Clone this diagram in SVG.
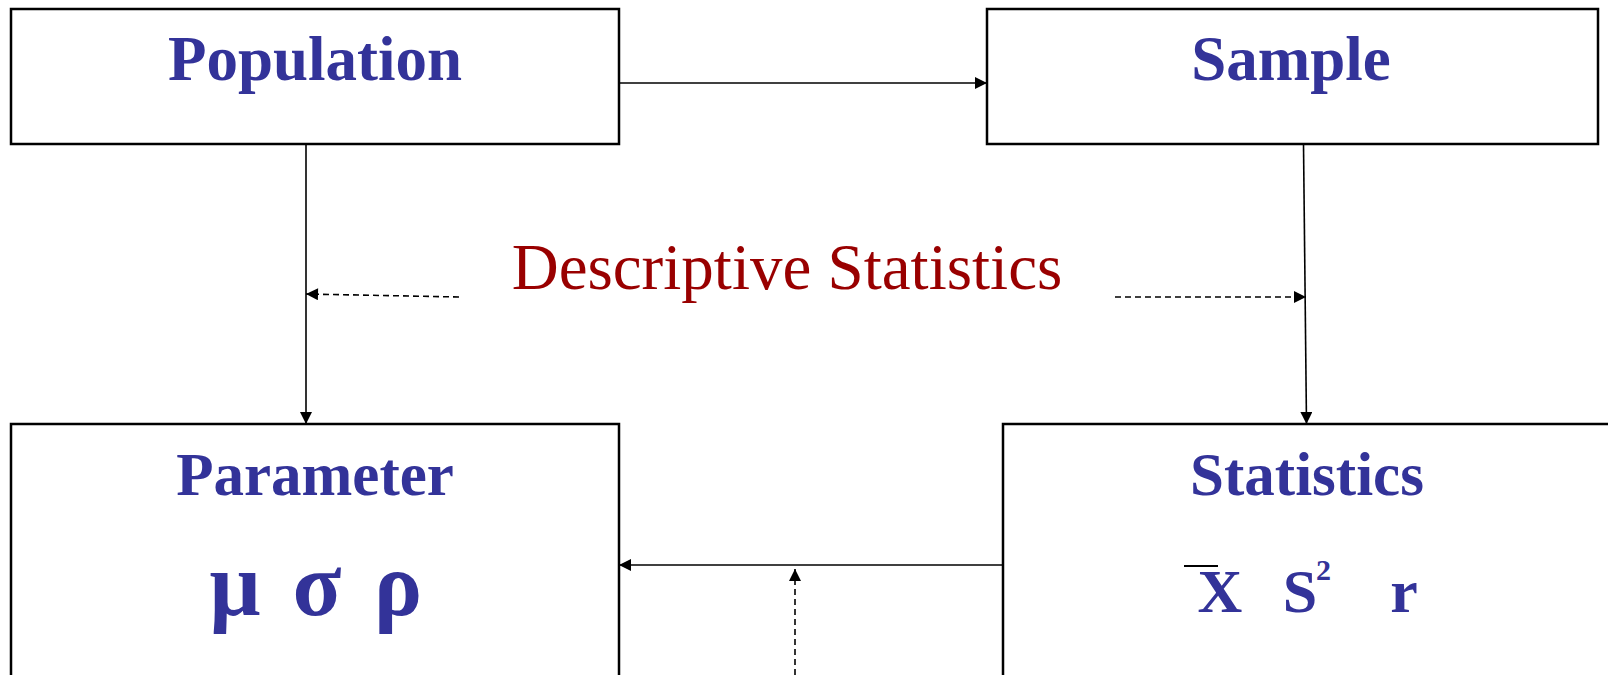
<svg xmlns="http://www.w3.org/2000/svg" width="1608" height="675" viewBox="0 0 1608 675">
<style>
.box{fill:#fff;stroke:#000;stroke-width:2.5}
.lbl{font-family:"Liberation Serif",serif;font-weight:bold;fill:#333399;text-anchor:middle}
.conn{stroke:#000;stroke-width:1.6;fill:none}
.dash{stroke:#000;stroke-width:1.6;fill:none;stroke-dasharray:6 4}
</style>
<defs>
<marker id="ahl" viewBox="0 0 10 10" refX="10" refY="5" markerWidth="13" markerHeight="12" markerUnits="userSpaceOnUse" orient="auto">
<path d="M0,0 L10,5 L0,10 Z" fill="#000"/>
</marker>
</defs>
<rect width="1608" height="675" fill="#fff"/>
<g id="population">
<rect class="box" x="11" y="9" width="608" height="135"/>
<text class="lbl" x="315" y="80" font-size="63">Population</text>
</g>
<g id="sample">
<rect class="box" x="987" y="9" width="611" height="135"/>
<text class="lbl" x="1291" y="80" font-size="63">Sample</text>
</g>
<g id="parameter">
<rect class="box" x="11" y="424" width="608" height="270"/>
<text class="lbl" x="315" y="495" font-size="61">Parameter</text>
<text class="lbl" y="615" font-size="90"><tspan x="235">μ</tspan><tspan x="317">σ</tspan><tspan x="398">ρ</tspan></text>
</g>
<g id="statistics">
<rect class="box" x="1003" y="424" width="620" height="270"/>
<text class="lbl" x="1307" y="495" font-size="61">Statistics</text>
<text class="lbl" y="612" font-size="62"><tspan x="1220">X</tspan><tspan x="1300">S</tspan><tspan x="1404">r</tspan></text>
<text class="lbl" x="1316" y="580" font-size="30" style="text-anchor:start">2</text>
<line x1="1184" y1="566" x2="1218" y2="566" stroke="#000" stroke-width="2"/>
</g>
<g id="descriptive">
<text x="787" y="289" font-family="'Liberation Serif',serif" font-size="65" fill="#990000" text-anchor="middle">Descriptive Statistics</text>
</g>
<g id="connectors">
<line class="conn" x1="619" y1="83" x2="987" y2="83" marker-end="url(#ahl)"/>
<line class="conn" x1="306" y1="144" x2="306" y2="424" marker-end="url(#ahl)"/>
<line class="conn" x1="1303.5" y1="144" x2="1306.5" y2="424" marker-end="url(#ahl)"/>
<line class="dash" x1="459" y1="297" x2="306" y2="294" marker-end="url(#ahl)"/>
<line class="dash" x1="1115" y1="297" x2="1306" y2="297" marker-end="url(#ahl)"/>
<line class="conn" x1="1003" y1="565" x2="619" y2="565" marker-end="url(#ahl)"/>
<line class="dash" x1="795" y1="675" x2="795" y2="569" marker-end="url(#ahl)"/>
</g>
</svg>
